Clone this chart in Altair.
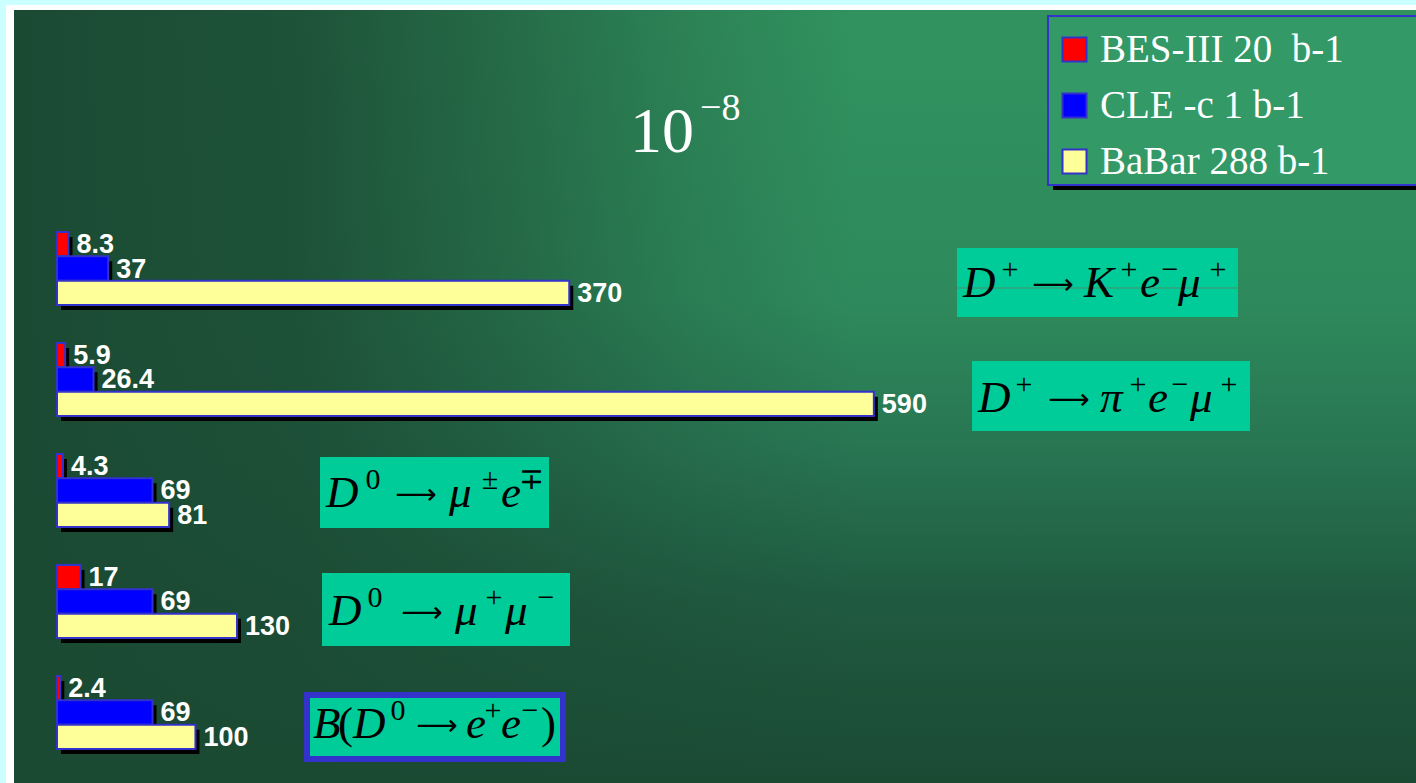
import altair as alt
import pandas as pd

# Upper limits on lepton-flavour-violating / rare D decays, in units of 10^-8
decays = ["D+ → K+ e− μ+", "D+ → π+ e− μ+", "D0 → μ± e∓", "D0 → μ+ μ−", "D0 → e+ e−"]
experiments = ["BES-III 20\u00a0 b-1", "CLE -c 1 b-1", "BaBar 288 b-1"]
bes3_limits = [8.3, 5.9, 4.3, 17, 2.4]
cleoc_limits = [37, 26.4, 69, 69, 69]
babar_limits = [370, 590, 81, 130, 100]
experiment_colors = ["#ff0000", "#0000ff", "#ffff99"]

rows = []
for series, values in zip(experiments, [bes3_limits, cleoc_limits, babar_limits]):
    for decay, v in zip(decays, values):
        rows.append({"decay": decay, "experiment": series, "limit": v, "label": f"{v:g}"})
bars = pd.DataFrame(rows)
one = pd.DataFrame({"k": [0]})

PX_PER_UNIT = 1.3845
X0, Y0, Y1 = 57, 232, 749
SHADOW_DX, SHADOW_DY = 4, 5


def x_enc(dx=0):
    return alt.X("limit:Q", axis=None,
                 scale=alt.Scale(domain=[0, 1000], range=[X0 + dx, X0 + dx + 1000 * PX_PER_UNIT]))


def y_enc(dy=0):
    return alt.Y("decay:N", axis=None,
                 scale=alt.Scale(domain=decays, range=[Y0 + dy, Y1 + dy],
                                 paddingInner=0.342, paddingOuter=0))


yoff = alt.YOffset("experiment:N",
                   scale=alt.Scale(domain=experiments, range=[0, 73], paddingInner=0, paddingOuter=0))


def box(x0, x1, y0, y1, **style):
    return alt.Chart(one).mark_rect(**style).encode(
        x=alt.value(x0), x2=alt.value(x1), y=alt.value(y0), y2=alt.value(y1))


def text(txt, x, y, **style):
    return alt.Chart(one).mark_text(**style).encode(
        x=alt.value(x), y=alt.value(y), text=alt.value(txt))


# slide background: darker toward the bottom, and toward the left edge
vertical = {
    "gradient": "linear", "x1": 0, "y1": 0, "x2": 0, "y2": 1,
    "stops": [
        {"offset": 0.0, "color": "#31925f"},
        {"offset": 0.375, "color": "#2e8a5c"},
        {"offset": 0.569, "color": "#287552"},
        {"offset": 0.763, "color": "#1f5a3f"},
        {"offset": 1.0, "color": "#1b4a33"},
    ],
}
left_shade = {
    "gradient": "linear", "x1": 0, "y1": 0, "x2": 1, "y2": 0,
    "stops": [
        {"offset": 0.0, "color": "rgba(27,74,51,1)"},
        {"offset": 0.204, "color": "rgba(27,74,51,0.88)"},
        {"offset": 0.347, "color": "rgba(27,74,51,0.55)"},
        {"offset": 0.489, "color": "rgba(27,74,51,0.2)"},
        {"offset": 0.6, "color": "rgba(27,74,51,0)"},
        {"offset": 1.0, "color": "rgba(27,74,51,0)"},
    ],
}
frame = box(6, 1416, 5, 783, color="white")
slide = box(14, 1416, 10, 783, fill=vertical)
slide_shade = box(14, 1416, 10, 783, fill=left_shade)

shadows = alt.Chart(bars).mark_bar(color="black").encode(
    x=x_enc(SHADOW_DX), y=y_enc(SHADOW_DY), yOffset=yoff)

colored = alt.Chart(bars).mark_bar(stroke="#3333cc", strokeWidth=2).encode(
    x=x_enc(), y=y_enc(), yOffset=yoff,
    color=alt.Color("experiment:N",
                    scale=alt.Scale(domain=experiments, range=experiment_colors),
                    legend=alt.Legend(title=None, orient="none", legendX=1055, legendY=30,
                                      symbolType="square", symbolSize=576,
                                      symbolStrokeColor="#3333cc", symbolStrokeWidth=2,
                                      symbolOpacity=1, labelFont="Liberation Serif",
                                      labelFontSize=39, labelColor="white", labelOffset=6,
                                      rowPadding=16, padding=0, labelLimit=400)))

values = alt.Chart(bars).mark_text(
    align="left", baseline="middle", dx=8, dy=1, font="Liberation Sans",
    fontWeight="bold", fontSize=27, color="white").encode(
    x=x_enc(), y=y_enc(), yOffset=yoff, text="label:N")

# legend panel
legend_shadow = box(1053, 1420, 20, 190, color="black")
legend_panel = box(1048, 1420, 16, 185, fill="#339966", stroke="#3333cc", strokeWidth=2)

# unit caption
unit_base = text("10", 630, 152, font="Liberation Serif", fontSize=64, color="white",
                 align="left", baseline="alphabetic")
unit_exp = text("\u22128", 700, 120, font="Liberation Serif", fontSize=38, color="white",
                align="left", baseline="alphabetic")


def formula(pieces, base):
    """pieces: (kind, glyphs, x); i = italic letter, u = upright, s = superscript, a = arrow"""
    out = []
    for kind, s, x in pieces:
        if kind == "i":
            out.append(text(s, x, base, align="left", font="Liberation Serif",
                            fontStyle="italic", fontSize=45, color="black",
                            baseline="alphabetic"))
        elif kind == "u":
            out.append(text(s, x, base, align="left", font="Liberation Serif",
                            fontSize=45, color="black", baseline="alphabetic"))
        elif kind == "s":
            out.append(text(s, x, base - 18, align="center", font="Liberation Serif",
                            fontSize=30, color="black", baseline="alphabetic"))
        else:
            out.append(text("⟶", x, base - 3, align="center", font="DejaVu Sans",
                            fontSize=29, color="black", baseline="alphabetic"))
    return out


teal = "#00cc99"
tag1 = [box(957, 1238, 248, 317, color=teal),
        alt.Chart(one).mark_rule(color="#4f8a68", strokeWidth=1).encode(
            x=alt.value(957), x2=alt.value(1238), y=alt.value(288))]
tag1 += formula([("i", "D", 963), ("s", "+", 1010), ("a", "", 1053), ("i", "K", 1084),
                 ("s", "+", 1129), ("i", "e", 1140), ("s", "\u2212", 1170),
                 ("i", "μ", 1178), ("s", "+", 1218)], 297)

tag2 = [box(972, 1250, 361, 431, color=teal)]
tag2 += formula([("i", "D", 978), ("s", "+", 1024), ("a", "", 1069), ("i", "π", 1100),
                 ("s", "+", 1138), ("i", "e", 1148), ("s", "\u2212", 1180),
                 ("i", "μ", 1190), ("s", "+", 1229)], 412)

tag3 = [box(320, 549, 457, 528, color=teal)]
tag3 += formula([("i", "D", 326), ("s", "0", 373), ("a", "", 416), ("i", "μ", 449),
                 ("s", "±", 490), ("i", "e", 501), ("s", "∓", 531)], 507)

tag4 = [box(322, 570, 573, 646, color=teal)]
tag4 += formula([("i", "D", 329), ("s", "0", 375), ("a", "", 422), ("i", "μ", 455),
                 ("s", "+", 494), ("i", "μ", 505), ("s", "\u2212", 546)], 625)

tag5 = [box(307, 563, 695, 759, fill=teal, stroke="#3333cc", strokeWidth=6)]
tag5 += formula([("i", "B", 313), ("u", "(", 338), ("i", "D", 353), ("s", "0", 398),
                 ("a", "", 437), ("i", "e", 466), ("s", "+", 493), ("i", "e", 501),
                 ("s", "\u2212", 530), ("u", ")", 541)], 738)

chart = alt.layer(
    frame, slide, slide_shade, shadows, colored, values,
    legend_shadow, legend_panel, unit_base, unit_exp,
    *tag1, *tag2, *tag3, *tag4, *tag5,
).resolve_scale(x="independent", y="independent").properties(
    width=1416, height=783, padding=0, background="#ccffff",
    autosize=alt.AutoSizeParams(type="none"),
).configure_view(stroke=None)

chart.save("out.html", embed_options={"renderer": "svg", "actions": False})
